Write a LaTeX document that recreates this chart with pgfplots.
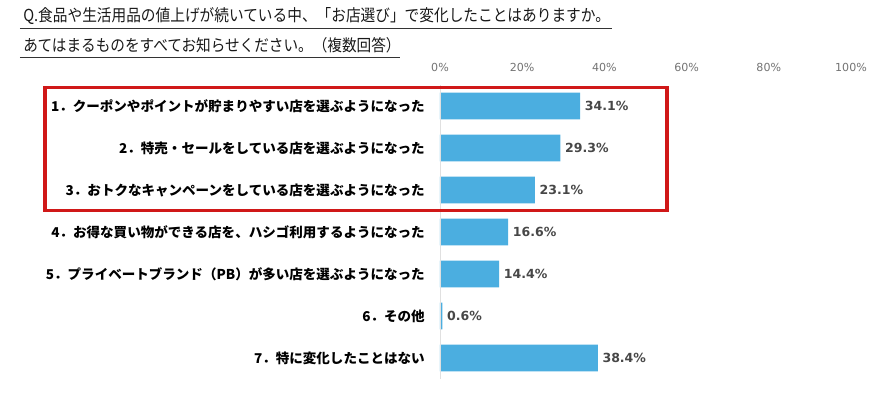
\documentclass[border=0pt]{standalone}
\usepackage{fontspec}
\usepackage{pgfplots}
\pgfplotsset{compat=1.18}
\setmainfont{Noto Sans CJK JP}
\newfontfamily\dvs{DejaVu Sans}
\definecolor{barblue}{HTML}{4BAEE0}
\definecolor{redbox}{HTML}{D01818}
\begin{document}
\begin{tikzpicture}
\useasboundingbox (-330pt,-13.5pt) rectangle (330.75pt,284.25pt);
\begin{axis}[
 xbar, scale only axis, width=308.25pt, height=220.5pt,
 xmin=0, xmax=100, ymin=-0.5, ymax=6.5, y dir=reverse,
 bar width=20pt,
 axis line style={draw=none},
 major tick length=0pt,
 xtick={0,20,40,60,80,100},
 xticklabels={0\%,20\%,40\%,60\%,80\%,100\%},
 xticklabel pos=upper,
 xticklabel style={font=\dvs\fontsize{8.3}{9}\selectfont, text=black!55, anchor=center, inner sep=0pt, yshift=13.5pt},
 ytick={0,...,6},
 yticklabels={{1．クーポンやポイントが貯まりやすい店を選ぶようになった},{2．特売・セールをしている店を選ぶようになった},{3．おトクなキャンペーンをしている店を選ぶようになった},{4．お得な買い物ができる店を、ハシゴ利用するようになった},{5．プライベートブランド（PB）が多い店を選ぶようになった},{6．その他},{7．特に変化したことはない}},
 yticklabel style={font=\bfseries\fontsize{10.15}{12}\selectfont, text=black, anchor=east, inner sep=0pt, xshift=-11.25pt},
 nodes near coords, point meta=explicit symbolic,
 nodes near coords style={font=\dvs\bfseries\fontsize{9.4}{10}\selectfont, text=black!72, anchor=west},
 clip=false,
]
\addplot[fill=barblue, draw=none] coordinates {
 (34.1,0) [34.1\%]
 (29.3,1) [29.3\%]
 (23.1,2) [23.1\%]
 (16.6,3) [16.6\%]
 (14.4,4) [14.4\%]
 (0.6,5) [0.6\%]
 (38.4,6) [38.4\%]
};
\draw[black!12] (axis cs:0,-0.5) -- (axis cs:0,6.5);
\end{axis}
\begin{scope}[x=0.75pt,y=-0.75pt,shift={(-330pt,284.25pt)}]
\node[anchor=west, inner sep=0pt, text=black!90] at (23,16) {\resizebox{440pt}{10.5pt}{\fontsize{12.5}{13}\selectfont Q.食品や生活用品の値上げが続いている中、「お店選び」で変化したことはありますか。}};
\draw[black!80, line width=0.8pt] (20,28.5) -- (612,28.5);
\node[anchor=west, inner sep=0pt, text=black!90] at (23,45) {\resizebox{283pt}{10.5pt}{\fontsize{12.5}{13}\selectfont あてはまるものをすべてお知らせください。（複数回答）}};
\draw[black!80, line width=0.8pt] (20,57.5) -- (400,57.5);
\draw[redbox, line width=2.3pt] (45,87.5) rectangle (667,210.5);
\end{scope}
\end{tikzpicture}
\end{document}
